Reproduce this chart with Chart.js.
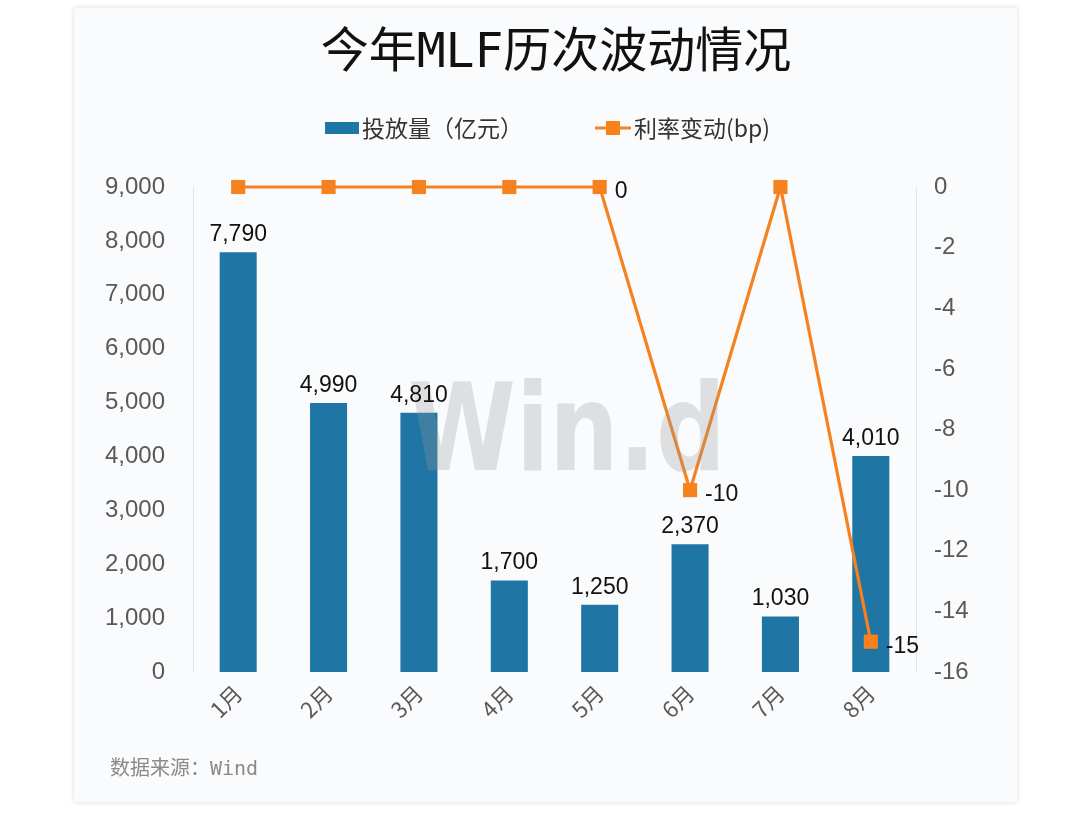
<!DOCTYPE html>
<html>
<head>
<meta charset="utf-8">
<script src="https://cdn.jsdelivr.net/npm/chart.js@4.4.1/dist/chart.umd.min.js"></script>
<style>
  html, body { margin: 0; padding: 0; background: #ffffff; }
  #card {
    position: absolute; left: 74px; top: 8px; width: 943px; height: 794px;
    background: #fafbfd; box-shadow: 0 0 5px rgba(0,0,0,0.16);
  }
</style>
</head>
<body>
<div id="card"><canvas id="mlf"></canvas></div>
<script>
const months = ["1月", "2月", "3月", "4月", "5月", "6月", "7月", "8月"];
const amounts = [7790, 4990, 4810, 1700, 1250, 2370, 1030, 4010];
const rateChanges = [0, 0, 0, 0, 0, -10, 0, -15];
// which points of the rate line carry a value label
const rateLabelShown = [false, false, false, false, true, true, false, true];
const legendNames = ["投放量（亿元）", "利率变动(bp)"];
const titleText = "今年MLF历次波动情况";

const BLUE = "#1f76a5";
const ORANGE = "#f5821f";
const TICK = "#595959";
const FONT = "'Noto Sans CJK SC', 'Noto Sans', sans-serif";
const NUMFONT = "'Liberation Sans', Arial, sans-serif";

const watermark = {
  id: "watermark",
  afterDatasetsDraw(chart) {
    const ctx = chart.ctx;
    ctx.save();
    ctx.translate(493, 462);
    ctx.scale(0.8, 1);
    ctx.font = "bold 122px 'DejaVu Sans', sans-serif";
    ctx.fillStyle = "rgba(150,150,150,0.28)";
    ctx.textAlign = "center";
    ctx.textBaseline = "alphabetic";
    ctx.fillText("Win.d", 0, 0);
    ctx.restore();
  }
};

const valueLabels = {
  id: "valueLabels",
  afterDatasetsDraw(chart) {
    const ctx = chart.ctx;
    ctx.save();
    ctx.font = "23px " + NUMFONT;
    ctx.fillStyle = "#111111";
    chart.getDatasetMeta(0).data.forEach((bar, i) => {
      ctx.textAlign = "center";
      ctx.textBaseline = "alphabetic";
      ctx.fillText(amounts[i].toLocaleString("en-US"), bar.x, bar.y - 11);
    });
    chart.getDatasetMeta(1).data.forEach((pt, i) => {
      if (!rateLabelShown[i]) return;
      ctx.textAlign = "left";
      ctx.textBaseline = "middle";
      ctx.fillText(String(rateChanges[i]), pt.x + 15, pt.y + 5);
    });
    ctx.restore();
  }
};

const headerAndNote = {
  id: "headerAndNote",
  afterDraw(chart) {
    const ctx = chart.ctx;
    ctx.save();
    // title
    ctx.font = "48px 'DejaVu Sans Mono', 'Noto Sans CJK SC', monospace";
    ctx.fillStyle = "#111111";
    ctx.textAlign = "center";
    ctx.textBaseline = "middle";
    ctx.fillText(titleText, 482, 47);
    // legend
    const y = 120;
    ctx.font = "23px " + FONT;
    ctx.textAlign = "left";
    ctx.fillStyle = BLUE;
    ctx.fillRect(251, y - 6, 34, 12);
    ctx.fillStyle = "#333333";
    ctx.fillText(legendNames[0], 288, y);
    ctx.fillStyle = ORANGE;
    ctx.fillRect(521, y - 1.5, 36, 3);
    ctx.fillRect(532, y - 7, 14, 14);
    ctx.fillStyle = "#333333";
    ctx.fillText(legendNames[1], 560, y);
    // source note
    ctx.font = "20px 'DejaVu Sans Mono', 'Noto Sans CJK SC', monospace";
    ctx.fillStyle = "#8a8a8a";
    ctx.fillText("数据来源：Wind", 36, 762);
    ctx.restore();
  }
};

new Chart(document.getElementById("mlf"), {
  data: {
    labels: months,
    datasets: [
      {
        type: "bar",
        label: legendNames[0],
        data: amounts,
        yAxisID: "yAmount",
        backgroundColor: BLUE,
        categoryPercentage: 1,
        barPercentage: 0.41,
        order: 1
      },
      {
        type: "line",
        label: legendNames[1],
        data: rateChanges,
        yAxisID: "yRate",
        borderColor: ORANGE,
        backgroundColor: ORANGE,
        borderWidth: 3.2,
        pointStyle: "rect",
        pointRadius: 10,
        pointHoverRadius: 10,
        pointBorderWidth: 0,
        tension: 0,
        clip: false,
        order: 0
      }
    ]
  },
  options: {
    responsive: true,
    maintainAspectRatio: false,
    animation: false,
    layout: { padding: { top: 179, left: 0, right: 0, bottom: 0 } },
    plugins: {
      title: { display: false },
      legend: { display: false },
      tooltip: { enabled: false }
    },
    scales: {
      x: {
        grid: { display: false, drawTicks: false },
        border: { display: false },
        ticks: {
          color: TICK,
          font: { family: FONT, size: 22 },
          maxRotation: 45,
          minRotation: 45,
          padding: 8
        },
        afterFit(scale) { scale.height = 130; }
      },
      yAmount: {
        position: "left",
        min: 0,
        max: 9000,
        grid: { display: false, drawTicks: false },
        border: { display: true, color: "#e2e4e8", width: 1 },
        ticks: {
          stepSize: 1000,
          color: TICK,
          font: { family: NUMFONT, size: 24 },
          padding: 28,
          callback: v => v.toLocaleString("en-US")
        },
        afterFit(scale) { scale.width = 119; }
      },
      yRate: {
        position: "right",
        min: -16,
        max: 0,
        grid: { display: false, drawTicks: false },
        border: { display: true, color: "#e2e4e8", width: 1 },
        ticks: {
          stepSize: 2,
          color: TICK,
          font: { family: NUMFONT, size: 24 },
          padding: 18
        },
        afterFit(scale) { scale.width = 101; }
      }
    }
  },
  plugins: [watermark, valueLabels, headerAndNote]
});
</script>
</body>
</html>
